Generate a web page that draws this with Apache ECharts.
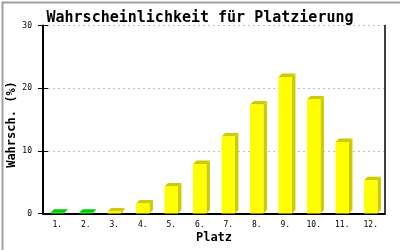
<!DOCTYPE html>
<html><head><meta charset="utf-8">
<script src="https://cdn.jsdelivr.net/npm/echarts@6/dist/echarts.min.js"></script>
<style>html,body{margin:0;padding:0;background:#fff}#c{width:400px;height:250px}</style>
</head><body><div id="c"></div>
<script>
const titleText = 'Wahrscheinlichkeit für Platzierung';
const xName = 'Platz';
const yName = 'Wahrsch. (%)';
const categories = ['1.','2.','3.','4.','5.','6.','7.','8.','9.','10.','11.','12.'];
const values = [0.1, 0.1, 0.3, 1.6, 4.3, 7.9, 12.3, 17.4, 21.8, 18.2, 11.4, 5.3];
const yTicks = [0, 10, 20, 30];

const mono = 'DejaVu Sans Mono';
const chart = echarts.init(document.getElementById('c'), null, {renderer:'canvas'});

function renderItem(params, api) {
  const xi = api.value(0), v = api.value(1);
  const base = api.coord([xi, 0]);
  const top = api.coord([xi, v]);
  const bw = api.size([1, 0])[0] * 0.47;
  const d = 3.5;
  const l = base[0] - bw / 2, r = base[0] + bw / 2;
  const green = params.dataIndex < 2;
  const front = green ? '#00ff00' : '#ffff00';
  const dark = green ? '#00cc00' : '#cccc00';
  return {
    type: 'group',
    children: [
      {type:'polygon', shape:{points:[[r, top[1]],[r+d, top[1]-d],[r+d, base[1]-d],[r, base[1]]]}, style:{fill:dark}},
      {type:'polygon', shape:{points:[[l, top[1]],[l+d, top[1]-d],[r+d, top[1]-d],[r, top[1]]]}, style:{fill:dark}},
      {type:'rect', shape:{x:l, y:top[1], width:bw, height:base[1]-top[1]}, style:{fill:front}}
    ]
  };
}

chart.setOption({
  animation: false,
  backgroundColor: '#ffffff',
  title: {text: titleText, left: 'center', top: 6,
    textStyle: {fontFamily: mono, fontWeight: 'bold', fontSize: 15, color: '#000'}},
  grid: {left: 43, right: 15, top: 25.5, bottom: 36.5, containLabel: false, outerBoundsMode: 'none'},
  xAxis: {type: 'category', data: categories, boundaryGap: true,
    name: xName, nameLocation: 'middle', nameGap: 18, nameMoveOverlap: false,
    nameTextStyle: {fontFamily: mono, fontWeight: 'bold', fontSize: 12, color: '#000'},
    axisLine: {lineStyle: {color: '#000', width: 2}},
    axisTick: {show: false},
    axisLabel: {fontFamily: mono, fontSize: 8, color: '#000', margin: 7}},
  yAxis: [
    {type: 'value', min: yTicks[0], max: yTicks[yTicks.length-1], interval: 10,
      name: yName, nameLocation: 'middle', nameRotate: 90, nameGap: 25, nameMoveOverlap: false,
      nameTextStyle: {fontFamily: mono, fontWeight: 'bold', fontSize: 12, color: '#000', padding: [0, 10, 0, 0]},
      axisLine: {show: true, lineStyle: {color: '#000', width: 2}},
      axisTick: {show: true, length: 5, lineStyle: {color: '#000', width: 1}},
      axisLabel: {fontFamily: mono, fontSize: 8, color: '#000', margin: 11},
      splitLine: {show: true, lineStyle: {color: '#c0c0c0', type: [2, 3], width: 1}}},
    {type: 'value', min: yTicks[0], max: yTicks[yTicks.length-1], interval: 10, position: 'left',
      axisLine: {show: false}, axisLabel: {show: false}, splitLine: {show: false},
      axisTick: {show: true, inside: true, length: 5, lineStyle: {color: '#000', width: 1}}},
    {type: 'value', min: yTicks[0], max: yTicks[yTicks.length-1], interval: 10, position: 'right',
      axisLine: {show: true, lineStyle: {color: '#000', width: 1.5}}, axisLabel: {show: false},
      splitLine: {show: false}, axisTick: {show: false}}
  ],
  series: [{
    type: 'custom', renderItem: renderItem, yAxisIndex: 0,
    data: values.map((v, i) => [i, v]), z: 3
  }],
  graphic: [{type: 'rect', left: 0, top: 0, shape: {x: 0, y: 0, width: 399, height: 249},
    style: {fill: 'none', stroke: '#a0a0a0', lineWidth: 2}, z: 100}]
});
</script></body></html>
